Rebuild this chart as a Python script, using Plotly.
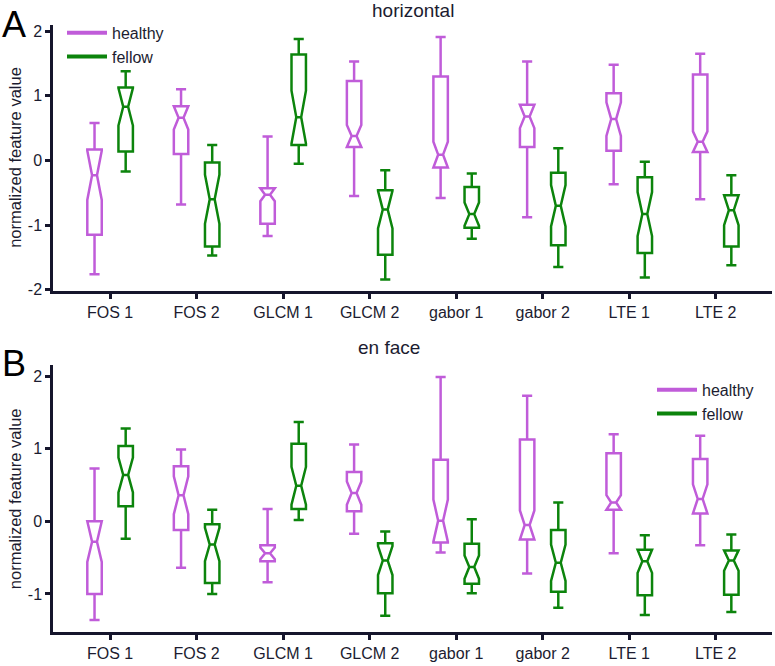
import plotly.graph_objects as go

# ---------------- data ----------------
categories = ["FOS 1", "FOS 2", "GLCM 1", "GLCM 2", "gabor 1", "gabor 2", "LTE 1", "LTE 2"]

# panel A: horizontal
hor_healthy_lower = [-1.76, -0.68, -1.17, -0.55, -0.58, -0.88, -0.37, -0.60]
hor_healthy_q1    = [-1.15, 0.10, -0.98, 0.21, -0.11, 0.21, 0.15, 0.13]
hor_healthy_med   = [-0.23, 0.66, -0.53, 0.38, 0.09, 0.68, 0.64, 0.29]
hor_healthy_q3    = [0.17, 0.84, -0.43, 1.23, 1.30, 0.86, 1.04, 1.33]
hor_healthy_upper = [0.58, 1.10, 0.37, 1.53, 1.91, 1.53, 1.48, 1.65]
hor_healthy_notch = [0.38, 0.18, 0.10, 0.17, 0.20, 0.18, 0.26, 0.16]

hor_fellow_lower = [-0.17, -1.47, -0.05, -1.84, -1.21, -1.65, -1.81, -1.62]
hor_fellow_q1    = [0.14, -1.33, 0.24, -1.46, -1.04, -1.31, -1.43, -1.33]
hor_fellow_med   = [0.83, -0.60, 0.67, -0.76, -0.83, -0.70, -0.83, -0.77]
hor_fellow_q3    = [1.13, -0.03, 1.64, -0.46, -0.41, -0.19, -0.26, -0.54]
hor_fellow_upper = [1.38, 0.24, 1.88, -0.15, -0.20, 0.19, -0.02, -0.23]
hor_fellow_notch = [0.29, 0.38, 0.41, 0.29, 0.18, 0.32, 0.34, 0.23]

# panel B: en face
enf_healthy_lower = [-1.36, -0.64, -0.84, -0.17, -0.43, -0.72, -0.44, -0.33]
enf_healthy_q1    = [-1.00, -0.12, -0.55, 0.14, -0.29, -0.25, 0.16, 0.11]
enf_healthy_med   = [-0.28, 0.36, -0.44, 0.39, 0.01, -0.05, 0.26, 0.31]
enf_healthy_q3    = [0.00, 0.76, -0.33, 0.68, 0.85, 1.13, 0.94, 0.86]
enf_healthy_upper = [0.73, 0.99, 0.17, 1.06, 1.99, 1.73, 1.20, 1.18]
enf_healthy_notch = [0.28, 0.26, 0.08, 0.16, 0.29, 0.20, 0.10, 0.20]

enf_fellow_lower = [-0.24, -1.00, 0.02, -1.30, -0.99, -1.19, -1.29, -1.25]
enf_fellow_q1    = [0.21, -0.85, 0.17, -0.99, -0.86, -0.97, -1.02, -1.01]
enf_fellow_med   = [0.64, -0.32, 0.49, -0.54, -0.63, -0.57, -0.55, -0.54]
enf_fellow_q3    = [1.04, -0.04, 1.07, -0.30, -0.31, -0.12, -0.39, -0.40]
enf_fellow_upper = [1.28, 0.16, 1.37, -0.14, 0.03, 0.26, -0.19, -0.18]
enf_fellow_notch = [0.24, 0.23, 0.26, 0.20, 0.16, 0.25, 0.16, 0.14]

hor_ticks = [-2, -1, 0, 1, 2]
hor_ticktext = ["-2", "-1", "0", "1", "2"]
enf_ticks = [-1, 0, 1, 2]
enf_ticktext = ["-1", "0", "1", "2"]

# ---------------- style ----------------
PURPLE = "#C05CD9"
GREEN = "#0C840C"
AXIS = "#15152c"
TEXT = "#1c1c30"
FONT = "Liberation Sans, Arial, sans-serif"
W, H = 775, 666


def box(name, color, lower, q1, med, q3, upper, notch, xa, ya):
    return go.Box(
        name=name, x=categories, lowerfence=lower, q1=q1, median=med, q3=q3,
        upperfence=upper, notchspan=notch, notched=True, notchwidth=0.33,
        boxpoints=False, whiskerwidth=0.7, fillcolor="rgba(255,255,255,0)",
        line=dict(color=color, width=2.5), offsetgroup=name, alignmentgroup=ya,
        showlegend=False, xaxis=xa, yaxis=ya, hoverinfo="skip",
    )


fig = go.Figure()
fig.add_trace(box("healthy", PURPLE, hor_healthy_lower, hor_healthy_q1, hor_healthy_med,
                  hor_healthy_q3, hor_healthy_upper, hor_healthy_notch, "x", "y"))
fig.add_trace(box("fellow", GREEN, hor_fellow_lower, hor_fellow_q1, hor_fellow_med,
                  hor_fellow_q3, hor_fellow_upper, hor_fellow_notch, "x", "y"))
fig.add_trace(box("healthy", PURPLE, enf_healthy_lower, enf_healthy_q1, enf_healthy_med,
                  enf_healthy_q3, enf_healthy_upper, enf_healthy_notch, "x2", "y2"))
fig.add_trace(box("fellow", GREEN, enf_fellow_lower, enf_fellow_q1, enf_fellow_med,
                  enf_fellow_q3, enf_fellow_upper, enf_fellow_notch, "x2", "y2"))

# legend entries (line samples)
for lg, xa, ya in (("legend", "x", "y"), ("legend2", "x2", "y2")):
    for nm, col in (("healthy", PURPLE), ("fellow", GREEN)):
        fig.add_trace(go.Scatter(x=[None], y=[None], mode="lines", name=nm,
                                 line=dict(color=col, width=4), legend=lg,
                                 xaxis=xa, yaxis=ya, showlegend=True))

xdom = [53 / W, 772 / W]
common_x = dict(type="category", range=[-0.66, 7.65], showline=True, linewidth=2.5,
                linecolor=AXIS, ticks="outside", ticklen=5, tickwidth=2.5, tickcolor=AXIS,
                showgrid=False, zeroline=False, tickfont=dict(size=16, color=TEXT, family=FONT),
                domain=xdom)
common_y = dict(showline=True, linewidth=2.5, linecolor=AXIS, ticks="outside", ticklen=5,
                tickwidth=2.5, tickcolor=AXIS, showgrid=False, zeroline=False,
                tickfont=dict(size=16, color=TEXT, family=FONT))

fig.update_layout(
    width=W, height=H, margin=dict(l=0, r=0, t=0, b=0),
    paper_bgcolor="white", plot_bgcolor="white",
    font=dict(family=FONT, color=TEXT, size=16),
    boxmode="group", boxgap=0.28, boxgroupgap=0.536,
    xaxis=dict(**common_x, anchor="y"),
    yaxis=dict(**common_y, range=[-2.02, 2.1], tickvals=hor_ticks, ticktext=hor_ticktext,
               domain=[1 - 293 / H, 1 - 23 / H], anchor="x"),
    xaxis2=dict(**common_x, anchor="y2"),
    yaxis2=dict(**common_y, range=[-1.53, 2.155], tickvals=enf_ticks, ticktext=enf_ticktext,
                domain=[1 - 639 / H, 1 - 368 / H], anchor="x2"),
    legend=dict(x=62 / W, y=1 - 14 / H, xanchor="left", yanchor="top", itemwidth=40,
                bgcolor="rgba(0,0,0,0)", font=dict(size=16, color=TEXT, family=FONT),
                tracegroupgap=0),
    legend2=dict(x=652 / W, y=1 - 376 / H, xanchor="left", yanchor="top", itemwidth=40,
                 bgcolor="rgba(0,0,0,0)", font=dict(size=16, color=TEXT, family=FONT),
                 tracegroupgap=0),
    annotations=[
        dict(text="A", x=0, y=1, xref="paper", yref="paper", xanchor="left", yanchor="top",
             showarrow=False, font=dict(size=36, color="black", family=FONT)),
        dict(text="B", x=0, y=1 - 344 / H, xref="paper", yref="paper", xanchor="left",
             yanchor="top", showarrow=False, font=dict(size=36, color="black", family=FONT)),
        dict(text="horizontal", x=413 / W, y=1 - 9 / H, xref="paper", yref="paper",
             xanchor="center", yanchor="middle", showarrow=False,
             font=dict(size=19, color=TEXT, family=FONT)),
        dict(text="en face", x=388.5 / W, y=1 - 350 / H, xref="paper", yref="paper",
             xanchor="center", yanchor="middle", showarrow=False,
             font=dict(size=19, color=TEXT, family=FONT)),
        dict(text="normalized feature value", x=15 / W, y=1 - 158 / H, xref="paper",
             yref="paper", xanchor="center", yanchor="middle", textangle=-90,
             showarrow=False, font=dict(size=16.5, color=TEXT, family=FONT)),
        dict(text="normalized feature value", x=15 / W, y=1 - 504 / H, xref="paper",
             yref="paper", xanchor="center", yanchor="middle", textangle=-90,
             showarrow=False, font=dict(size=16.5, color=TEXT, family=FONT)),
    ],
)

fig.write_html("out.html")
